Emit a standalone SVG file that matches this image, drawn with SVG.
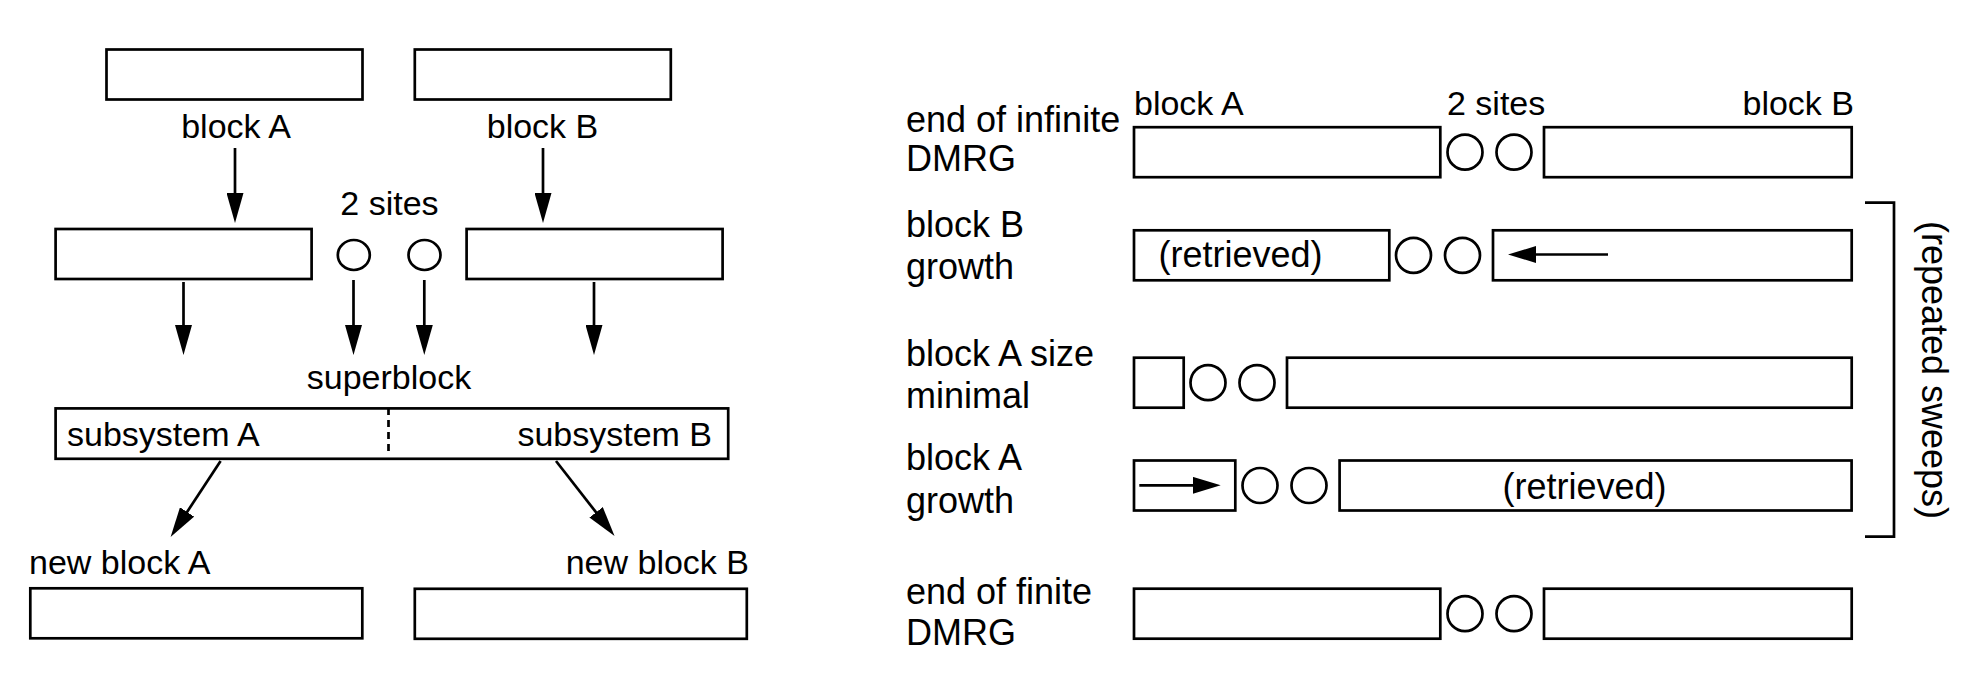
<svg xmlns="http://www.w3.org/2000/svg" width="1988" height="682" viewBox="0 0 1988 682">
<style>
.box{fill:#fff;stroke:#000;stroke-width:2.7}
.site{fill:#fff;stroke:#000;stroke-width:2.7}
.conn{fill:none;stroke:#000;stroke-width:2.7}
.dash{fill:none;stroke:#000;stroke-width:2.7;stroke-dasharray:7 5}
.t{font-family:"Liberation Sans",Arial,sans-serif;font-size:34px;fill:#000}
.r{font-family:"Liberation Sans",Arial,sans-serif;font-size:36px;fill:#000}
.m{text-anchor:middle}
.e{text-anchor:end}
</style>
<defs>
<marker id="ah" markerUnits="userSpaceOnUse" markerWidth="30" markerHeight="17" refX="20" refY="8.5" orient="auto">
<path d="M0,0 L30,8.5 L0,17 Z" fill="#000"/>
</marker>
<marker id="ah2" markerUnits="userSpaceOnUse" markerWidth="28" markerHeight="17" refX="18" refY="8.5" orient="auto">
<path d="M0,0 L28,8.5 L0,17 Z" fill="#000"/>
</marker>
</defs>
<rect x="0" y="0" width="1988" height="682" fill="#fff"/>

<!-- LEFT PANEL -->
<g id="top-block-A"><rect class="box" x="106.5" y="49.5" width="256" height="50"/><text class="t m" x="236" y="138">block A</text></g>
<g id="top-block-B"><rect class="box" x="414.8" y="49.5" width="256" height="50"/><text class="t m" x="542.5" y="138">block B</text></g>
<g id="mid-block-A"><rect class="box" x="55.6" y="229" width="256" height="50"/></g>
<g id="mid-block-B"><rect class="box" x="466.6" y="229" width="256" height="50"/></g>
<g id="sites"><text class="t m" x="389.5" y="215">2 sites</text>
<ellipse class="site" cx="353.8" cy="255" rx="16" ry="15"/>
<ellipse class="site" cx="424.5" cy="255" rx="16" ry="15"/></g>
<g id="superblock"><text class="t m" x="389" y="389">superblock</text>
<rect class="box" x="55.6" y="408.4" width="672.6" height="50.4"/>
<line class="dash" x1="388.5" y1="408" x2="388.5" y2="451"/>
<text class="t" x="67" y="446">subsystem A</text>
<text class="t e" x="712" y="446">subsystem B</text></g>
<g id="new-block-A"><text class="t" x="29" y="574">new block A</text><rect class="box" x="30.3" y="588.3" width="332" height="50"/></g>
<g id="new-block-B"><text class="t e" x="749" y="574">new block B</text><rect class="box" x="414.8" y="588.8" width="332" height="50"/></g>

<!-- RIGHT PANEL -->
<g id="row1-infinite">
<text class="r" x="906" y="132">end of infinite</text>
<text class="r" x="906" y="171">DMRG</text>
<text class="t" x="1134" y="115">block A</text>
<text class="t" x="1447" y="115">2 sites</text>
<text class="t e" x="1854" y="115">block B</text>
<rect class="box" x="1134" y="127.2" width="306.3" height="50"/>
<circle class="site" cx="1465" cy="152.2" r="17.5"/>
<circle class="site" cx="1514" cy="152.2" r="17.5"/>
<rect class="box" x="1544" y="127.2" width="307.7" height="50"/>
</g>
<g id="row2-blockB-growth">
<text class="r" x="906" y="237">block B</text>
<text class="r" x="906" y="279">growth</text>
<rect class="box" x="1134" y="230.3" width="255.3" height="50"/>
<text class="r m" x="1240.5" y="267">(retrieved)</text>
<circle class="site" cx="1413.5" cy="255.3" r="17.5"/>
<circle class="site" cx="1462.5" cy="255.3" r="17.5"/>
<rect class="box" x="1493" y="230.3" width="358.7" height="50"/>
</g>
<g id="row3-blockA-minimal">
<text class="r" x="906" y="366">block A size</text>
<text class="r" x="906" y="408">minimal</text>
<rect class="box" x="1134" y="357.7" width="49.7" height="50"/>
<circle class="site" cx="1208" cy="382.7" r="17.5"/>
<circle class="site" cx="1257" cy="382.7" r="17.5"/>
<rect class="box" x="1287" y="357.7" width="564.7" height="50"/>
</g>
<g id="row4-blockA-growth">
<text class="r" x="906" y="470">block A</text>
<text class="r" x="906" y="513">growth</text>
<rect class="box" x="1134" y="460.5" width="101.3" height="50"/>
<circle class="site" cx="1260" cy="485.5" r="17.5"/>
<circle class="site" cx="1309" cy="485.5" r="17.5"/>
<rect class="box" x="1339.6" y="460.5" width="512" height="50"/>
<text class="r m" x="1584.6" y="499">(retrieved)</text>
</g>
<g id="row5-finite">
<text class="r" x="906" y="604">end of finite</text>
<text class="r" x="906" y="645">DMRG</text>
<rect class="box" x="1134" y="588.7" width="306.3" height="50"/>
<circle class="site" cx="1465" cy="613.7" r="17.5"/>
<circle class="site" cx="1514" cy="613.7" r="17.5"/>
<rect class="box" x="1544" y="588.7" width="307.7" height="50"/>
</g>
<g id="sweeps">
<path class="conn" d="M1865,202.7 H1894 V536.7 H1865"/>
<text class="r m" transform="translate(1922,370) rotate(90)" x="0" y="0">(repeated sweeps)</text>
</g>

<g id="connectors">
<line class="conn" x1="235" y1="148" x2="235" y2="213" marker-end="url(#ah)"/>
<line class="conn" x1="543" y1="148" x2="543" y2="213" marker-end="url(#ah)"/>
<line class="conn" x1="183.5" y1="282" x2="183.5" y2="345" marker-end="url(#ah)"/>
<line class="conn" x1="353.5" y1="280" x2="353.5" y2="345" marker-end="url(#ah)"/>
<line class="conn" x1="424.3" y1="280" x2="424.3" y2="345" marker-end="url(#ah)"/>
<line class="conn" x1="594" y1="282" x2="594" y2="345" marker-end="url(#ah)"/>
<line class="conn" x1="220.6" y1="461" x2="176.1" y2="528.65" marker-end="url(#ah)"/>
<line class="conn" x1="556" y1="461" x2="608.4" y2="528.1" marker-end="url(#ah)"/>
<line class="conn" x1="1608" y1="254.5" x2="1518" y2="254.5" marker-end="url(#ah2)"/>
<line class="conn" x1="1139.3" y1="485.3" x2="1210.7" y2="485.3" marker-end="url(#ah2)"/>
</g>
</svg>
